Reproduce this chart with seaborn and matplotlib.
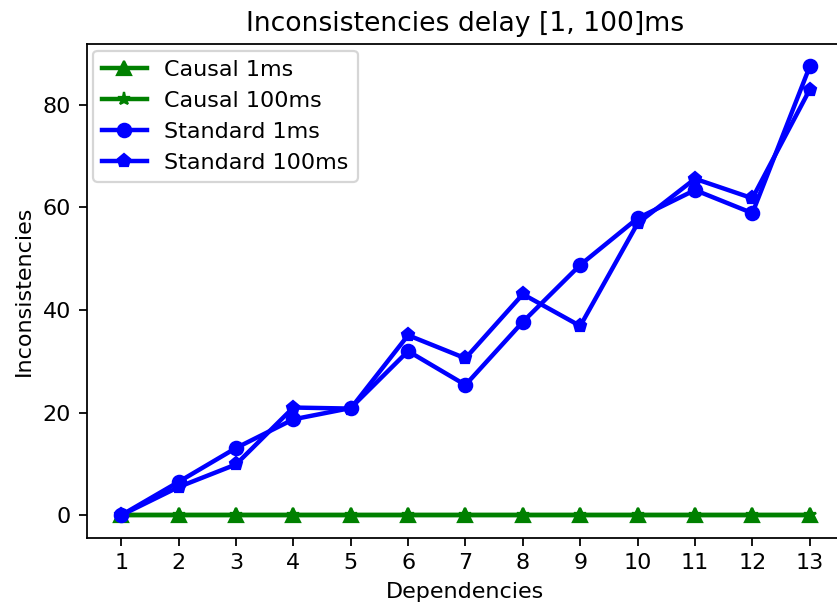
import numpy as np
import pandas as pd
import seaborn as sns
import matplotlib.pyplot as plt

dependencies = list(range(1, 14))
causal_1ms = [0] * 13
causal_100ms = [0] * 13
standard_1ms = [0, 6.5, 13.1, 18.7, 20.9, 32.0, 25.4, 37.7, 48.8, 57.9, 63.4, 58.9, 87.5]
standard_100ms = [0, 5.5, 9.9, 21.0, 20.8, 35.1, 30.6, 43.1, 36.9, 56.9, 65.6, 61.8, 83.0]

series = [
    ("Causal 1ms", causal_1ms, "green", "^"),
    ("Causal 100ms", causal_100ms, "green", "*"),
    ("Standard 1ms", standard_1ms, "blue", "o"),
    ("Standard 100ms", standard_100ms, "blue", "p"),
]

DPI = 160
fig = plt.figure(figsize=(837 / DPI, 607 / DPI), dpi=DPI)
ax = fig.add_axes([86.7 / 837, 1 - 537.7 / 607, 757.5 / 837, (537.7 - 44) / 607])

for name, vals, color, marker in series:
    df = pd.DataFrame({"Dependencies": dependencies, "Inconsistencies": vals})
    sns.lineplot(data=df, x="Dependencies", y="Inconsistencies", ax=ax, label=name,
                 color=color, marker=marker, linewidth=2, markersize=6,
                 markeredgecolor=color, markeredgewidth=1)

ax.set_xticks(dependencies)
ax.set_xlabel("Dependencies")
ax.set_ylabel("Inconsistencies")
ax.set_title("Inconsistencies delay [1, 100]ms")
ax.legend(loc="upper left", borderaxespad=0.3)

fig.savefig("out.png", dpi=DPI)
